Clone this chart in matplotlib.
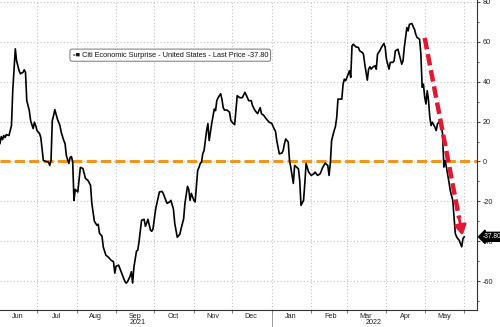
import matplotlib
matplotlib.use('Agg')
import matplotlib.pyplot as plt
import matplotlib.dates as mdates
import pandas as pd

plt.rcParams['font.family'] = ['Liberation Sans', 'DejaVu Sans']
plt.rcParams['axes.unicode_minus'] = False

# Citi Economic Surprise Index - US
dates = [
    '2021-06-02', '2021-06-03', '2021-06-04', '2021-06-05', '2021-06-06', '2021-06-07', '2021-06-09',
    '2021-06-11', '2021-06-12', '2021-06-14', '2021-06-15', '2021-06-17', '2021-06-18', '2021-06-20',
    '2021-06-21', '2021-06-22', '2021-06-23', '2021-06-25', '2021-06-26', '2021-06-28', '2021-06-29',
    '2021-06-30', '2021-07-01', '2021-07-03', '2021-07-04', '2021-07-05', '2021-07-06', '2021-07-08',
    '2021-07-10', '2021-07-11', '2021-07-12', '2021-07-13', '2021-07-14', '2021-07-15', '2021-07-17',
    '2021-07-19', '2021-07-20', '2021-07-22', '2021-07-23', '2021-07-24', '2021-07-26', '2021-07-27',
    '2021-07-28', '2021-07-29', '2021-07-30', '2021-07-31', '2021-08-02', '2021-08-04', '2021-08-06',
    '2021-08-08', '2021-08-10', '2021-08-12', '2021-08-13', '2021-08-15', '2021-08-17', '2021-08-18',
    '2021-08-19', '2021-08-21', '2021-08-22', '2021-08-24', '2021-08-26', '2021-08-28', '2021-08-30',
    '2021-08-31', '2021-09-01', '2021-09-03', '2021-09-04', '2021-09-06', '2021-09-08', '2021-09-09',
    '2021-09-10', '2021-09-12', '2021-09-13', '2021-09-14', '2021-09-15', '2021-09-17', '2021-09-18',
    '2021-09-19', '2021-09-21', '2021-09-23', '2021-09-24', '2021-09-25', '2021-09-26', '2021-09-28',
    '2021-09-29', '2021-09-30', '2021-10-02', '2021-10-03', '2021-10-05', '2021-10-07', '2021-10-08',
    '2021-10-10', '2021-10-11', '2021-10-13', '2021-10-14', '2021-10-16', '2021-10-17', '2021-10-19',
    '2021-10-21', '2021-10-22', '2021-10-24', '2021-10-25', '2021-10-27', '2021-10-28', '2021-10-29',
    '2021-10-30', '2021-11-01', '2021-11-02', '2021-11-04', '2021-11-05', '2021-11-06', '2021-11-07',
    '2021-11-08', '2021-11-09', '2021-11-11', '2021-11-12', '2021-11-13', '2021-11-15', '2021-11-17',
    '2021-11-18', '2021-11-19', '2021-11-20', '2021-11-22', '2021-11-23', '2021-11-24', '2021-11-25',
    '2021-11-27', '2021-11-29', '2021-11-30', '2021-12-02', '2021-12-03', '2021-12-05', '2021-12-07',
    '2021-12-09', '2021-12-11', '2021-12-13', '2021-12-14', '2021-12-16', '2021-12-17', '2021-12-19',
    '2021-12-21', '2021-12-23', '2021-12-24', '2021-12-26', '2021-12-27', '2021-12-29', '2021-12-30',
    '2022-01-01', '2022-01-03', '2022-01-04', '2022-01-05', '2022-01-07', '2022-01-09', '2022-01-10',
    '2022-01-11', '2022-01-12', '2022-01-14', '2022-01-15', '2022-01-16', '2022-01-18', '2022-01-19',
    '2022-01-22', '2022-01-23', '2022-01-24', '2022-01-26', '2022-01-27', '2022-01-28', '2022-01-30',
    '2022-02-01', '2022-02-03', '2022-02-04', '2022-02-06', '2022-02-08', '2022-02-10', '2022-02-12',
    '2022-02-14', '2022-02-15', '2022-02-16', '2022-02-17', '2022-02-18', '2022-02-19', '2022-02-20',
    '2022-02-21', '2022-02-22', '2022-02-25', '2022-02-26', '2022-02-27', '2022-02-28', '2022-03-01',
    '2022-03-03', '2022-03-04', '2022-03-05', '2022-03-06', '2022-03-08', '2022-03-10', '2022-03-11',
    '2022-03-13', '2022-03-14', '2022-03-15', '2022-03-17', '2022-03-18', '2022-03-19', '2022-03-20',
    '2022-03-21', '2022-03-23', '2022-03-24', '2022-03-25', '2022-03-27', '2022-03-28', '2022-03-30',
    '2022-03-31', '2022-04-01', '2022-04-03', '2022-04-04', '2022-04-06', '2022-04-07', '2022-04-08',
    '2022-04-10', '2022-04-11', '2022-04-13', '2022-04-14', '2022-04-15', '2022-04-17', '2022-04-18',
    '2022-04-19', '2022-04-21', '2022-04-22', '2022-04-23', '2022-04-24', '2022-04-25', '2022-04-27',
    '2022-04-28', '2022-04-29', '2022-04-30', '2022-05-01', '2022-05-02', '2022-05-03', '2022-05-04',
    '2022-05-05', '2022-05-06', '2022-05-07', '2022-05-09', '2022-05-10', '2022-05-11', '2022-05-13',
    '2022-05-14', '2022-05-15', '2022-05-16', '2022-05-17', '2022-05-18', '2022-05-20', '2022-05-21',
    '2022-05-23', '2022-05-24', '2022-05-25', '2022-05-26', '2022-05-27', '2022-05-28', '2022-05-30',
    '2022-05-31', '2022-06-01',
]
values = [
    9, 12.5, 11, 13, 12, 13.5, 13,
    18, 35.5, 56.5, 50.5, 45.5, 44, 44.7,
    46, 44.7, 30.5, 25.5, 20.5, 16.5, 19.7,
    18, 15.5, 14, 12, 6.3, 0.5, 0,
    -0.3, -2, 0.5, 20.5, 23, 26, 21.3,
    18, 14.7, 10.5, 9, 3, -1, 2,
    2.5, -0.3, -19.5, -14, -15.3, -3, -3.5,
    -8.5, -9.5, -12, -21, -30, -32, -31.5,
    -36, -37.5, -43, -47, -48, -49.5, -50.3,
    -56, -52.5, -52, -53.7, -57, -60.3, -61,
    -60.3, -57.5, -55.3, -61, -53, -45, -44.5,
    -40.3, -29.5, -29, -32.5, -31, -29, -34.5,
    -35, -33.7, -24, -21, -15.3, -15, -16,
    -19.5, -21, -20.3, -19.5, -24, -31, -38,
    -36.5, -33.7, -28.7, -21, -12.5, -14, -19.5,
    -16, -19.5, -20.3, -4.5, -3, -1, -0.3,
    4, 5.5, 15.5, 19, 10.5, 19, 26.3,
    25.5, 30.5, 32, 34, 31.3, 27, 25.8,
    25.8, 24.7, 20.5, 19, 18.5, 33, 32,
    32, 34.7, 32, 30.5, 30.5, 28, 25.5,
    24, 27, 24, 23, 22, 20.5, 19.7,
    19.2, 16.3, 15.2, 10.5, 3.8, 4.2, 5.5,
    8.8, 11.3, 9.7, 0.5, -3, -11, -2,
    -3.7, -9.5, -22, -19.5, -11, -1, -5.3,
    -7, -6.2, -5.3, -7, -6.2, -3, -0.8,
    -2, -7, -1, 10.5, 13, 15.5, 17.5,
    22, 31.3, 31.3, 38.8, 41.3, 40.5, 42.2,
    45.5, 42.2, 58, 58.8, 57.5, 57.2, 55.5,
    54.7, 53.8, 48.8, 40.8, 46.3, 47.5, 46.3,
    47.2, 48, 46.3, 53.8, 55.8, 57.2, 59.2,
    57.2, 51.3, 46.3, 49.7, 49.7, 50.5, 55.5,
    56.3, 53.8, 48.8, 50.5, 57.2, 67.2, 65.5,
    68.8, 69.2, 67.5, 66.3, 63.8, 62.2, 61.3,
    53.8, 37.2, 38.8, 32.2, 28.8, 35.5, 30.5,
    22.2, 18, 19.7, 17.2, 15.5, 18.8, 20.5,
    18, 13.8, -2.8, 0.5, -2.8, -10.3, -14.5,
    -19.5, -27.8, -36.2, -37.8, -38.7, -39.5, -42.8,
    -38.7, -37.8,
]
last_price = -37.80
series_name = 'Citi Economic Surprise - United States - Last Price'
arrow_from = ('2022-05-01', 62)
arrow_to = ('2022-05-31', -38.5)

x = pd.to_datetime(dates)

fig = plt.figure(figsize=(5, 3.27), dpi=100)
ax = fig.add_axes([0.0, 0.052, 0.954, 0.948])

ax.set_xlim(pd.Timestamp('2021-06-02'), pd.Timestamp('2022-06-11'))
ax.set_ylim(-74.5, 81)

# grid
ax.set_yticks(range(-60, 81, 20))
ax.set_yticks(range(-70, 81, 10), minor=True)
ax.xaxis.set_major_locator(mdates.MonthLocator(bymonthday=1))
ax.xaxis.set_major_formatter(plt.NullFormatter())
ax.xaxis.set_minor_locator(mdates.MonthLocator(bymonthday=16))
ax.xaxis.set_minor_formatter(mdates.DateFormatter('%b'))
ax.grid(True, which='major', color='#c4c4c4', linestyle=(0, (1, 2)), linewidth=0.8)

ax.axhline(0, color='#f0961e', linewidth=2.2, dashes=(3.3, 1.4), zorder=2)
ax.plot(x, values, color='black', linewidth=1.2, zorder=3)

# red trend arrow
x0 = mdates.date2num(pd.Timestamp(arrow_from[0]))
x1 = mdates.date2num(pd.Timestamp(arrow_to[0]))
y0, y1 = arrow_from[1], arrow_to[1]
f = 0.9
ax.plot([x0, x0 + f * (x1 - x0)], [y0, y0 + f * (y1 - y0)], color='#e3172f',
        linewidth=3.2, dashes=(2.6, 1.1), solid_capstyle='butt', zorder=4)
ax.annotate('', xy=(x1, y1), xytext=(x0 + 0.88 * (x1 - x0), y0 + 0.88 * (y1 - y0)),
            arrowprops=dict(arrowstyle='-|>,head_width=0.35,head_length=0.6',
                            color='#e3172f', linewidth=2), zorder=5)

# axes styling
for s in ['left', 'top']:
    ax.spines[s].set_visible(False)
ax.spines['right'].set_color('#333333')
ax.spines['bottom'].set_color('#333333')
ax.spines['right'].set_linewidth(0.8)
ax.spines['bottom'].set_linewidth(0.8)
ax.yaxis.tick_right()
ax.tick_params(axis='y', which='major', length=2.5, width=0.6, labelsize=5.2,
               pad=1.5, colors='#222222')
ax.tick_params(axis='y', which='minor', length=1.5, width=0.5, colors='#222222')
ax.tick_params(axis='x', which='major', length=2.5, width=0.5, colors='#444444')
ax.tick_params(axis='x', which='minor', length=0, labelsize=5.2, pad=2, labelcolor='#222222')

# year labels + separator
tr = ax.get_xaxis_transform()
ax.text(pd.Timestamp('2021-09-18'), -0.041, '2021', transform=tr, ha='center', va='center',
        fontsize=5.2, color='#222222')
ax.text(pd.Timestamp('2022-03-22'), -0.041, '2022', transform=tr, ha='center', va='center',
        fontsize=5.2, color='#222222')
ax.plot([pd.Timestamp('2022-01-01')] * 2, [0, -0.06], transform=tr, color='#888888',
        linewidth=0.6, clip_on=False)

# legend box
ax.text(0.152, 0.822, '\u25ab\u25a0 ' + series_name + ' %.2f' % last_price,
        transform=ax.transAxes, ha='left', va='center', fontsize=5.3, color='#111111',
        bbox=dict(boxstyle='round,pad=0.35,rounding_size=0.3', fc='white', ec='#888888', lw=0.8))

# last price tag
ax.annotate('%.2f' % last_price, xy=(1.0, last_price), xycoords=('axes fraction', 'data'),
            xytext=(1.013, last_price), textcoords=('axes fraction', 'data'),
            ha='left', va='center', fontsize=4.8, color='white',
            bbox=dict(boxstyle='larrow,pad=0.15', fc='black', ec='black'),
            annotation_clip=False, zorder=10)

fig.savefig('out.png', dpi=100)
